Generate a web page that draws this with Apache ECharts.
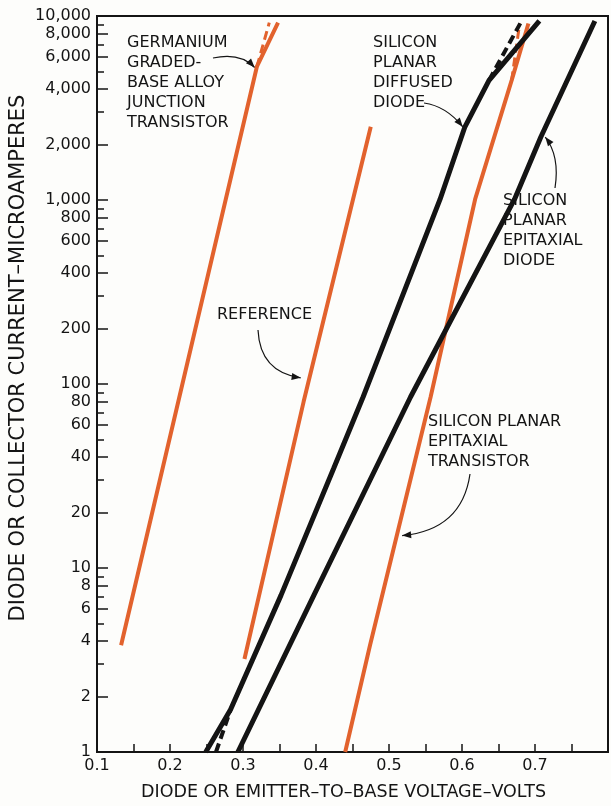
<!DOCTYPE html>
<html><head><meta charset="utf-8">
<script src="https://cdn.jsdelivr.net/npm/echarts@6/dist/echarts.min.js"></script>
<style>html,body{margin:0;padding:0;background:#fdfdfb}#c{width:611px;height:806px}</style>
</head><body><div id="c"></div>
<script>
// ---- tick values / labels ----
const yLabelValues = [1,2,4,6,8,10,20,40,60,80,100,200,400,600,800,1000,2000,4000,6000,8000,10000];
const yLabelTexts  = ['1','2','4','6','8','10','20','40','60','80','100','200','400','600','800','1,000','2,000','4,000','6,000','8,000','10,000'];
const yMinorValues = [3,5,7,9,30,50,70,90,300,500,700,900,3000,5000,7000,9000];
const xLabelValues = [0.1,0.2,0.3,0.4,0.5,0.6,0.7];

// ---- series (volts, microamperes) ----
const geV = [0.133, 0.319, 0.348];      const geI = [3.8, 5300, 9200];
const geDashV = [0.319, 0.336];         const geDashI = [5300, 9200];
const refV = [0.302, 0.383, 0.475];     const refI = [3.2, 80, 2500];
const sdV = [0.249, 0.283, 0.352, 0.424, 0.4645, 0.570, 0.604, 0.637, 0.706];
const sdI = [1, 1.7, 7.1, 34.6, 85, 1010, 2500, 4470, 9400];
const sdDashLowV = [0.263, 0.283];      const sdDashLowI = [1, 1.7];
const sdDashTopV = [0.637, 0.681];      const sdDashTopI = [4470, 9300];
const edV = [0.293, 0.397, 0.5295, 0.672, 0.708, 0.782];
const edI = [1, 7.1, 85, 1010, 2200, 9400];
const trV = [0.440, 0.474, 0.557, 0.618, 0.668, 0.691];
const trI = [1, 3.8, 85, 1010, 4470, 9100];
const trDashV = [0.668, 0.679];         const trDashI = [4470, 9100];

const INK = '#141414';
const ORANGE = '#e2622d';
const FONT = 'DejaVu Sans';

function pairs(v, i) { return v.map((x, k) => [x, i[k]]); }
function lineSeries(v, i, color, width, dashed, z) {
  return { type: 'line', data: pairs(v, i), showSymbol: false, symbol: 'none',
    silent: true, animation: false, z: z,
    lineStyle: { color: color, width: width, type: dashed ? [9, 5] : 'solid', cap: 'butt' } };
}
function labelFor(v) {
  for (let k = 0; k < yLabelValues.length; k++) {
    if (Math.abs(Math.log10(v) - Math.log10(yLabelValues[k])) < 1e-6) return yLabelTexts[k];
  }
  return '';
}

const chart = echarts.init(document.getElementById('c'), null, { renderer: 'canvas' });
const baseY = { type: 'log', logBase: 10, min: 1, max: 10000, position: 'left', splitLine: { show: false } };

chart.setOption({
  backgroundColor: '#fdfdfb',
  animation: false,
  grid: { left: 92, right: 3, top: 16, bottom: 48, show: true, borderColor: INK, borderWidth: 2, backgroundColor: 'transparent' },
  xAxis: {
    type: 'value', min: 0.1, max: 0.8, interval: 0.05,
    axisLine: { show: true, onZero: false, lineStyle: { color: INK, width: 2 } },
    axisTick: { show: true, inside: true, length: 8, lineStyle: { color: INK, width: 1.5 } },
    axisLabel: { color: INK, fontFamily: FONT, fontSize: 16, margin: 6,
      formatter: function (v) { const k = Math.round(v * 100); return (k % 10 === 0 && k <= 70) ? (k / 100).toFixed(1) : ''; } },
    splitLine: { show: false },
    name: 'DIODE OR EMITTER–TO–BASE VOLTAGE–VOLTS', nameLocation: 'middle', nameGap: 31,
    nameTextStyle: { color: INK, fontFamily: FONT, fontSize: 17.5, padding: [0, 18, 0, 0] }
  },
  yAxis: [
    Object.assign({}, baseY, {
      axisLine: { show: true, onZero: false, lineStyle: { color: INK, width: 2 } },
      axisTick: { show: true, inside: true, length: 7, customValues: yMinorValues, lineStyle: { color: INK, width: 1.5 } },
      axisLabel: { show: false },
      name: 'DIODE OR COLLECTOR CURRENT–MICROAMPERES', nameLocation: 'middle', nameGap: 68, nameRotate: 90,
      nameTextStyle: { color: INK, fontFamily: FONT, fontSize: 21, padding: [0, 0, 0, 52] }
    }),
    Object.assign({}, baseY, {
      axisLine: { show: false },
      axisTick: { show: true, inside: true, length: 11, customValues: yLabelValues, lineStyle: { color: INK, width: 1.5 } },
      axisLabel: { show: true, customValues: yLabelValues, color: INK, fontFamily: FONT, fontSize: 16, margin: 6,
        formatter: labelFor }
    })
  ],
  series: [
    lineSeries(geV, geI, ORANGE, 4, false, 2),
    lineSeries(geDashV, geDashI, ORANGE, 3, true, 2),
    lineSeries(refV, refI, ORANGE, 4, false, 2),
    lineSeries(trV, trI, ORANGE, 4, false, 2),
    lineSeries(trDashV, trDashI, ORANGE, 3, true, 2),
    lineSeries(sdV, sdI, INK, 5, false, 3),
    lineSeries(sdDashLowV, sdDashLowI, INK, 4, true, 3),
    lineSeries(sdDashTopV, sdDashTopI, INK, 4, true, 3),
    lineSeries(edV, edI, INK, 5, false, 3)
  ]
});

// ---- annotations: text blocks (pixel layout) with arrows pointing to data points ----
const annotations = [
  { text: 'GERMANIUM\nGRADED-\nBASE ALLOY\nJUNCTION\nTRANSISTOR', x: 127, y: 33, from: [213, 58], ctrl: [240, 52], to: [0.316, 5250] },
  { text: 'SILICON\nPLANAR\nDIFFUSED\nDIODE', x: 373, y: 33, from: [424, 103], ctrl: [446, 106], to: [0.601, 2500] },
  { text: 'SILICON\nPLANAR\nEPITAXIAL\nDIODE', x: 503, y: 191, from: [555, 188], ctrl: [560, 156], to: [0.714, 2200] },
  { text: 'REFERENCE', x: 217, y: 305, from: [258, 330], ctrl: [260, 372], to: [0.379, 108] },
  { text: 'SILICON PLANAR\nEPITAXIAL\nTRANSISTOR', x: 428, y: 412, from: [470, 474], ctrl: [462, 530], to: [0.518, 15] }
];

function drawAnnotations() {
  const g = [];
  annotations.forEach(function (a) {
    g.push({ type: 'text', x: a.x, y: a.y, silent: true,
      style: { text: a.text, font: '16px "' + FONT + '"', fill: INK, lineHeight: 20, verticalAlign: 'top' } });
    const tip = chart.convertToPixel({ xAxisIndex: 0, yAxisIndex: 0 }, a.to);
    g.push({ type: 'bezierCurve', silent: true,
      shape: { x1: a.from[0], y1: a.from[1], cpx1: a.ctrl[0], cpy1: a.ctrl[1], x2: tip[0], y2: tip[1] },
      style: { stroke: INK, lineWidth: 1.2, fill: null } });
    const dx = tip[0] - a.ctrl[0], dy = tip[1] - a.ctrl[1];
    const L = Math.sqrt(dx * dx + dy * dy), ux = dx / L, uy = dy / L;
    const len = 9, hw = 3.5;
    g.push({ type: 'polygon', silent: true,
      shape: { points: [[tip[0], tip[1]],
        [tip[0] - ux * len - uy * hw, tip[1] - uy * len + ux * hw],
        [tip[0] - ux * len + uy * hw, tip[1] - uy * len - ux * hw]] },
      style: { fill: INK } });
  });
  chart.setOption({ graphic: g });
}
drawAnnotations();
</script></body></html>
